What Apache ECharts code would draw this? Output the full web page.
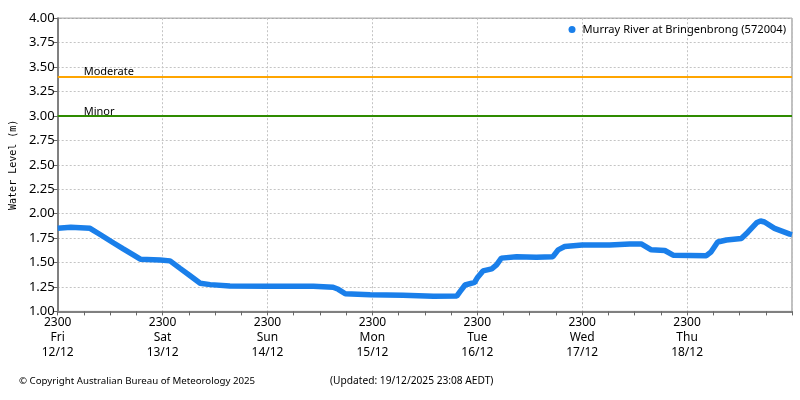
<!DOCTYPE html>
<html>
<head>
<meta charset="utf-8">
<style>
  html, body { margin: 0; padding: 0; background: #fff; }
  #main { width: 800px; height: 400px; }
</style>
<script src="https://cdn.jsdelivr.net/npm/echarts@6/dist/echarts.min.js"></script>
</head>
<body>
<div id="main"></div>
<script>
// hours since 2300 Fri 12/12
var hours = [0, 3, 7.4, 9.7, 12.8, 15, 17.3, 18.9, 23.4, 25.7, 28, 30.3, 32.6, 34.9, 39.4, 48,
  58.5, 63, 64.2, 65.8, 71.5, 79, 86, 91.3, 92, 93.2, 95.4, 96.1, 97.3, 99.3, 100.4, 101.5,
  105, 109.5, 113.3, 114.5, 116, 120, 126.3, 130.9, 133.5, 135.8, 138.9, 140.8, 148.4, 149.5,
  151, 153, 156.4, 157.9, 160, 160.8, 161.7, 164, 167.5, 168];
var levels = [1.85, 1.86, 1.85, 1.787, 1.70, 1.64, 1.578, 1.534, 1.527, 1.517, 1.44, 1.364, 1.288, 1.274, 1.26, 1.257,
  1.257, 1.247, 1.226, 1.18, 1.17, 1.165, 1.155, 1.157, 1.20, 1.27, 1.298, 1.35, 1.414, 1.435, 1.476, 1.545,
  1.56, 1.555, 1.56, 1.63, 1.664, 1.68, 1.68, 1.69, 1.69, 1.63, 1.623, 1.575, 1.57, 1.61,
  1.71, 1.73, 1.745, 1.81, 1.91, 1.925, 1.915, 1.85, 1.79, 1.785];

var dayNames = ['Fri', 'Sat', 'Sun', 'Mon', 'Tue', 'Wed', 'Thu'];
var dayDates = ['12/12', '13/12', '14/12', '15/12', '16/12', '17/12', '18/12'];
var floodNames = ['Moderate', 'Minor'];
var floodLevels = [3.4, 3.0];
var floodColors = ['#ffa500', '#2e8b00'];

var seriesName = 'Murray River at Bringenbrong (572004)';
var font = '"Noto Sans"';

var data = [];
for (var i = 0; i < hours.length; i++) {
  data.push([hours[i], levels[i]]);
}

var floodLines = [];
for (var j = 0; j < floodNames.length; j++) {
  floodLines.push({
    name: floodNames[j],
    yAxis: floodLevels[j],
    lineStyle: { color: floodColors[j], width: 2, type: 'solid' },
    label: {
      show: true,
      formatter: floodNames[j],
      position: 'insideStartTop',
      distance: 0,
      padding: [0, 0, -1, 26],
      color: '#000',
      fontFamily: font,
      fontSize: 11
    }
  });
}

var myChart = echarts.init(document.getElementById('main'), null, { renderer: 'canvas' });
myChart.setOption({
  animation: false,
  backgroundColor: '#fff',
  textStyle: { fontFamily: font },
  title: [
    { text: '© Copyright Australian Bureau of Meteorology 2025', left: 14, top: 371,
      textStyle: { fontSize: 9.7, fontWeight: 'normal', color: '#000', fontFamily: font } },
    { text: '(Updated: 19/12/2025 23:08 AEDT)', left: 325, top: 371,
      textStyle: { fontSize: 10.2, fontWeight: 'normal', color: '#000', fontFamily: font } }
  ],
  legend: {
    data: [{ name: seriesName, icon: 'circle' }],
    right: 14, top: 24,
    itemWidth: 7, itemHeight: 7, itemGap: 0,
    padding: 0,
    textStyle: { fontSize: 11.1, color: '#000', fontFamily: font, padding: [0, 0, 0, 2] }
  },
  grid: {
    left: 57.5, right: 8, top: 18.2, bottom: 88.6,
    show: true, borderColor: '#808080', borderWidth: 1, backgroundColor: '#fff'
  },
  xAxis: {
    type: 'value',
    min: 0, max: 168, interval: 24,
    axisLine: { show: true, onZero: false, lineStyle: { color: '#808080', width: 2 } },
    axisTick: { show: true, length: 4, lineStyle: { color: '#666' } },
    minorTick: { show: true, splitNumber: 4, length: 4, lineStyle: { color: '#666' } },
    splitLine: { show: true, lineStyle: { color: '#c4c4c4', type: [2, 2], width: 1 } },
    axisLabel: {
      color: '#000', fontSize: 12, lineHeight: 15, margin: 4, fontFamily: font,
      formatter: function (v) {
        var d = v / 24;
        if (d >= dayNames.length) return '';
        return '2300\n' + dayNames[d] + '\n' + dayDates[d];
      }
    }
  },
  yAxis: {
    type: 'value',
    min: 1, max: 4, interval: 0.25,
    name: 'Water Level (m)',
    nameLocation: 'middle',
    nameGap: 31,
    nameTextStyle: { fontFamily: '"DejaVu Sans Mono"', fontSize: 10, color: '#000' },
    axisLine: { show: true, lineStyle: { color: '#808080', width: 2 } },
    axisTick: { show: true, length: 4, lineStyle: { color: '#666' } },
    splitLine: { show: true, lineStyle: { color: '#c4c4c4', type: [2, 2], width: 1 } },
    axisLabel: {
      color: '#000', fontSize: 13, margin: 3, fontFamily: font,
      formatter: function (v) { return v.toFixed(2); }
    }
  },
  series: [{
    name: seriesName,
    type: 'line',
    data: data,
    showSymbol: false,
    symbol: 'circle',
    itemStyle: { color: '#1a7fea' },
    lineStyle: { color: '#1a7fea', width: 5.5 },
    markLine: {
      silent: true,
      symbol: 'none',
      data: floodLines
    }
  }]
});
</script>
</body>
</html>
